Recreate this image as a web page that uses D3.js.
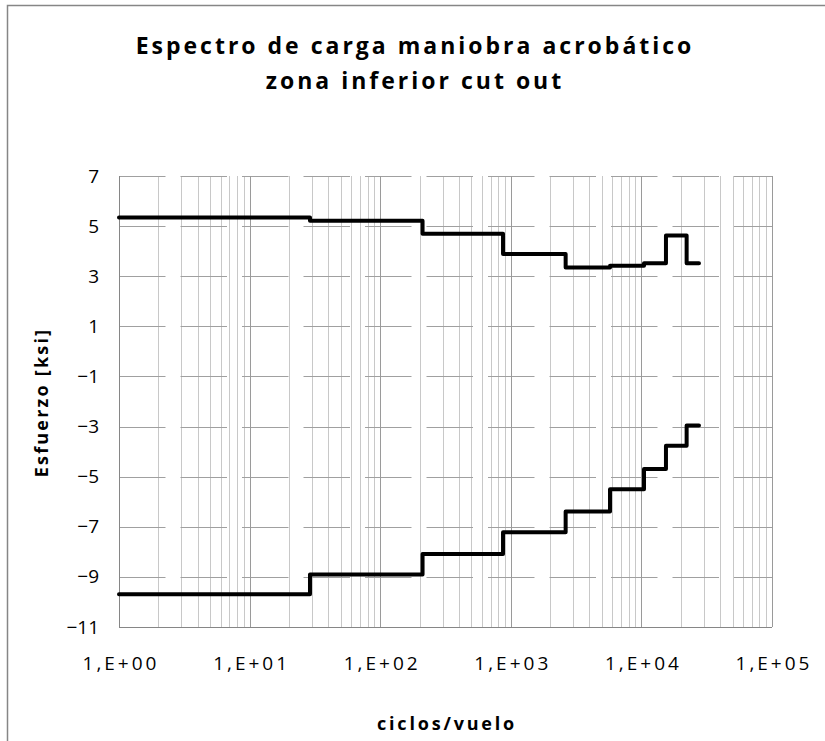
<!DOCTYPE html>
<html>
<head>
<meta charset="utf-8">
<script src="https://cdn.jsdelivr.net/npm/d3@7"></script>
<style>
  body { margin: 0; background: #fff; }
  text { font-family: "Open Sans", "Noto Sans", sans-serif; fill: #000; }
</style>
</head>
<body>
<div id="my_dataviz"></div>
<script>
// step breakpoints (ciclos/vuelo) shared by both curves
var ciclos = [1, 29, 211, 872, 2630, 5750, 10470, 15420, 22200, 27600];
// stress levels for each step [ksi]
var esfuerzoMax = [5.34, 5.21, 4.70, 3.89, 3.35, 3.42, 3.52, 4.63, 3.52];
var esfuerzoMin = [-9.69, -8.90, -8.09, -7.22, -6.39, -5.50, -4.69, -3.77, -2.96];

var yTicks = [7, 5, 3, 1, -1, -3, -5, -7, -9, -11];
var xTicks = [1, 10, 100, 1000, 10000, 100000];
var xTickLabels = ["1,E+00", "1,E+01", "1,E+02", "1,E+03", "1,E+04", "1,E+05"];

function plot() {
    document.getElementById("my_dataviz").innerHTML = '';

    var W = 825, H = 741;
    var margin = {top: 176, right: 53, bottom: 114, left: 119},
        width = W - margin.left - margin.right,
        height = H - margin.top - margin.bottom;

    var root = d3.select("#my_dataviz")
        .append("svg")
            .attr("width", W)
            .attr("height", H);

    // chart frame (only left and top edges visible)
    root.append("path")
        .attr("d", "M7.5,741 V5.5 H825")
        .attr("fill", "none")
        .attr("stroke", "#868686")
        .attr("stroke-width", 1.5);

    var svg = root.append("g")
        .attr("transform", "translate(" + margin.left + "," + margin.top + ")");

    var xScale = d3.scaleLog()
        .domain([1, 100000])
        .range([0, width]);

    var yScale = d3.scaleLinear()
        .domain([-11, 7])
        .range([height, 0]);

    // minor vertical grid
    var minor = [];
    for (var d = 1; d < 100000; d *= 10) {
        for (var k = 2; k <= 9; k++) minor.push(d * k);
    }
    svg.selectAll("line.minor")
        .data(minor)
        .enter()
        .append("line")
            .attr("class", "minor")
            .attr("x1", function(d) { return Math.round(xScale(d)) + 0.5; })
            .attr("x2", function(d) { return Math.round(xScale(d)) + 0.5; })
            .attr("y1", 0)
            .attr("y2", height)
            .attr("stroke", "#c8c8c8")
            .attr("stroke-width", 1);

    // horizontal grid
    svg.selectAll("line.hgrid")
        .data(yTicks)
        .enter()
        .append("line")
            .attr("class", "hgrid")
            .attr("x1", 0)
            .attr("x2", width)
            .attr("y1", function(d) { return Math.round(yScale(d)) + 0.5; })
            .attr("y2", function(d) { return Math.round(yScale(d)) + 0.5; })
            .attr("stroke", "#a0a0a0")
            .attr("stroke-width", 1)
            .attr("stroke-dasharray", "46.5,15");

    // major vertical grid
    svg.selectAll("line.major")
        .data(xTicks)
        .enter()
        .append("line")
            .attr("class", "major")
            .attr("x1", function(d) { return Math.round(xScale(d)) + 0.5; })
            .attr("x2", function(d) { return Math.round(xScale(d)) + 0.5; })
            .attr("y1", 0)
            .attr("y2", height)
            .attr("stroke", "#9a9a9a")
            .attr("stroke-width", 1);

    // axis lines
    svg.append("line")
        .attr("x1", 0.5).attr("x2", 0.5)
        .attr("y1", 0).attr("y2", height)
        .attr("stroke", "#868686");
    svg.append("line")
        .attr("x1", 0).attr("x2", width)
        .attr("y1", height + 0.5).attr("y2", height + 0.5)
        .attr("stroke", "#868686");

    // tick labels
    var xAxis = d3.axisBottom(xScale)
        .tickValues(xTicks)
        .tickSize(0)
        .tickPadding(30)
        .tickFormat(function(d, i) { return xTickLabels[i]; });
    var gx = svg.append("g")
        .attr("transform", "translate(0," + height + ")")
        .call(xAxis);
    gx.select(".domain").remove();
    gx.selectAll("text")
        .attr("dx", "1.5px")
        .style("font-size", "19px")
        .style("letter-spacing", "3px")
        .style("font-family", "'Open Sans', sans-serif");

    var yAxis = d3.axisLeft(yScale)
        .tickValues(yTicks)
        .tickSize(0)
        .tickPadding(20);
    var gy = svg.append("g").call(yAxis);
    gy.select(".domain").remove();
    gy.selectAll("text")
        .style("font-size", "19px")
        .style("font-family", "'Open Sans', sans-serif");

    // step curves
    var line = d3.line()
        .curve(d3.curveStepAfter)
        .x(function(d) { return xScale(d.x); })
        .y(function(d) { return yScale(d.y); });

    [esfuerzoMax, esfuerzoMin].forEach(function(serie) {
        var pts = ciclos.map(function(c, i) {
            return {x: c, y: serie[Math.min(i, serie.length - 1)]};
        });
        svg.append("path")
            .datum(pts)
            .attr("fill", "none")
            .attr("stroke", "#000")
            .attr("stroke-width", 4)
            .attr("stroke-linejoin", "round")
            .attr("stroke-linecap", "round")
            .attr("d", line);
    });

    // titles
    var title = root.append("text")
        .attr("text-anchor", "middle")
        .style("font-size", "23px")
        .style("font-weight", "bold")
        .style("letter-spacing", "3px");
    title.append("tspan").attr("x", 415).attr("y", 54).text("Espectro de carga maniobra acrobático");
    title.append("tspan").attr("x", 415).attr("y", 89).text("zona inferior cut out");

    root.append("text")
        .attr("x", margin.left + width / 2 + 1.5)
        .attr("y", 730)
        .attr("text-anchor", "middle")
        .style("font-size", "18px")
        .style("font-weight", "bold")
        .style("letter-spacing", "2.8px")
        .text("ciclos/vuelo");

    root.append("text")
        .attr("transform", "translate(48," + (margin.top + height / 2 + 1) + ") rotate(-90)")
        .attr("text-anchor", "middle")
        .style("font-size", "18px")
        .style("font-weight", "bold")
        .style("letter-spacing", "2.2px")
        .text("Esfuerzo [ksi]");
}

window.addEventListener("load", plot);
</script>
</body>
</html>
